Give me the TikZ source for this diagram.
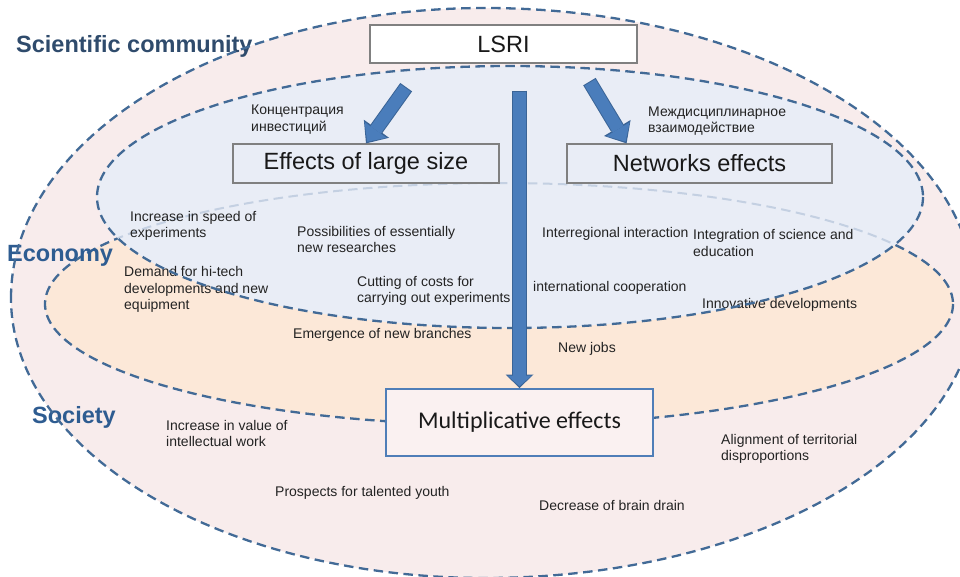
\documentclass[tikz,border=0pt]{standalone}
\usepackage{fontspec}
\setmainfont{Liberation Sans}
\newfontfamily\calibrifont{Carlito}
\usetikzlibrary{arrows.meta,calc}
\definecolor{pinkc}{RGB}{248,236,236}
\definecolor{orangec}{RGB}{252,232,216}
\definecolor{bluec}{RGB}{233,237,246}
\definecolor{dashc}{RGB}{66,106,150}
\definecolor{faintc}{RGB}{196,208,226}
\definecolor{scic}{RGB}{47,75,108}
\definecolor{grpc}{RGB}{46,92,145}
\definecolor{txtc}{RGB}{35,35,35}
\definecolor{arrc}{RGB}{74,125,187}
\definecolor{arrdark}{RGB}{58,100,150}
\definecolor{multc}{RGB}{79,126,184}
\tikzset{
  dsh/.style={draw=dashc, line width=2.3pt, dash pattern=on 9.5pt off 5.5pt},
  faintdsh/.style={draw=faintc, line width=2pt, dash pattern=on 9.5pt off 5.5pt},
  lbl/.style={anchor=west, inner sep=0pt, align=left, font=\fontsize{14}{16.5}\selectfont, text=txtc},
  grp/.style={anchor=base west, inner sep=0pt, font=\fontsize{23.5}{28}\selectfont\bfseries},
  box/.style={draw=black!50, line width=1.2pt, inner sep=0pt, text=black!90, font=\fontsize{23.5}{28}\selectfont},
  bigarrout/.style={draw=arrdark, line width=14.5pt, -{Triangle[width=31pt,length=18pt,line width=0pt]}},
  bigarr/.style={draw=arrc, line width=12.5pt, shorten >=2pt, -{Triangle[width=27pt,length=14.5pt,line width=0pt]}},
  vbigarrout/.style={draw=arrdark, line width=14.5pt, -{Triangle[width=28pt,length=13.5pt,line width=0pt]}},
  vbigarr/.style={draw=arrc, line width=12.5pt, shorten >=1.8pt, -{Triangle[width=24pt,length=10.5pt,line width=0pt]}}
}
\begin{document}
\begin{tikzpicture}[x=1pt,y=-1pt]
\useasboundingbox (0,0) rectangle (960,576);
\clip (0,0) rectangle (960,576);
% fills
\path[fill=pinkc] (11,298) arc[start angle=180,end angle=270,x radius=474,y radius=290]
  arc[start angle=270,end angle=360,x radius=490,y radius=290]
  arc[start angle=0,end angle=90,x radius=490,y radius=280]
  arc[start angle=90,end angle=180,x radius=474,y radius=280] -- cycle;
\path[fill=orangec] (499,304) ellipse[x radius=454, y radius=121];
\draw[dsh] (499,304) ellipse[x radius=454, y radius=121];
\path[fill=bluec] (510,197) ellipse[x radius=413, y radius=131];
\begin{scope}
  \clip (510,197) ellipse[x radius=413, y radius=131];
  \draw[faintdsh] (499,304) ellipse[x radius=454, y radius=121];
\end{scope}
% group labels
\node[grp, text=scic] (sci) at (16,52) {Scientific community};
\node[grp, text=grpc] (eco) at (7,261) {Economy};
\node[grp, text=grpc] (soc) at (32,423) {Society};
% small labels
\node[lbl] (t1) at (130,226) {Increase in speed of\\experiments};
\node[lbl] (t2) at (297,239.5) {Possibilities of essentially\\new researches};
\node[lbl] (t3) at (124,289.5) {Demand for hi-tech\\developments and new\\equipment};
\node[lbl] (t4) at (357,291) {Cutting of costs for\\carrying out experiments};
\node[lbl] (t5) at (293,335) {Emergence of new branches};
\node[lbl] (t6) at (542,234) {Interregional interaction};
\node[lbl] (t7) at (693,243) {Integration of science and\\education};
\node[lbl] (t8) at (533,288) {international cooperation};
\node[lbl] (t9) at (702,305) {Innovative developments};
\node[lbl] (t10) at (558,349) {New jobs};
\node[lbl] (t11) at (166,433.5) {Increase in value of\\intellectual work};
\node[lbl] (t12) at (275,493) {Prospects for talented youth};
\node[lbl] (t13) at (721,449) {Alignment of territorial\\disproportions};
\node[lbl] (t14) at (539,505) {Decrease of brain drain};
\node[lbl] (r1) at (251,119.5) {Концентрация\\инвестиций};
\node[lbl] (r2) at (648,121) {Междисциплинарное\\взаимодействие};
% outlines
\draw[dsh] (11,298) arc[start angle=180,end angle=270,x radius=474,y radius=290]
  arc[start angle=270,end angle=360,x radius=490,y radius=290]
  arc[start angle=0,end angle=90,x radius=490,y radius=280]
  arc[start angle=90,end angle=180,x radius=474,y radius=280] -- cycle;
\draw[dsh] (510,197) ellipse[x radius=413, y radius=131];
% boxes
\node[box, fill=white, minimum width=267pt, minimum height=38pt] (lsri) at (503.5,44) {LSRI};
\node[box, fill=bluec, minimum width=266pt, minimum height=39pt] (large) at (366,163.5) {Effects of large size};
\node[box, fill=bluec, minimum width=265pt, minimum height=39pt] (net) at (699.5,163.5) {Networks effects};
\node[box, draw=multc, line width=2pt, fill=pinkc!75!white, minimum width=267pt, minimum height=67pt, font=\calibrifont\fontsize{24}{28}\selectfont] (mult) at (519.5,422.5) {Multiplicative effects};
% arrows
\coordinate (aL) at ($(lsri.south west)!0.2!(lsri.south east)$);
\coordinate (aR) at ($(lsri.south west)!0.78!(lsri.south east)$);
\coordinate (bR) at ($(net.north west)!0.226!(net.north east)$);
\draw[bigarrout, shorten <=29pt] (aL) -- (large.north);
\draw[bigarr, shorten <=30pt] (aL) -- (large.north);
\draw[bigarrout, shorten <=21pt] (aR) -- (bR);
\draw[bigarr, shorten <=22pt] (aR) -- (bR);
\draw[vbigarrout, shorten <=27pt] (mult.north |- lsri.south) -- (mult.north);
\draw[vbigarr, shorten <=28pt] (mult.north |- lsri.south) -- (mult.north);
\end{tikzpicture}
\end{document}
